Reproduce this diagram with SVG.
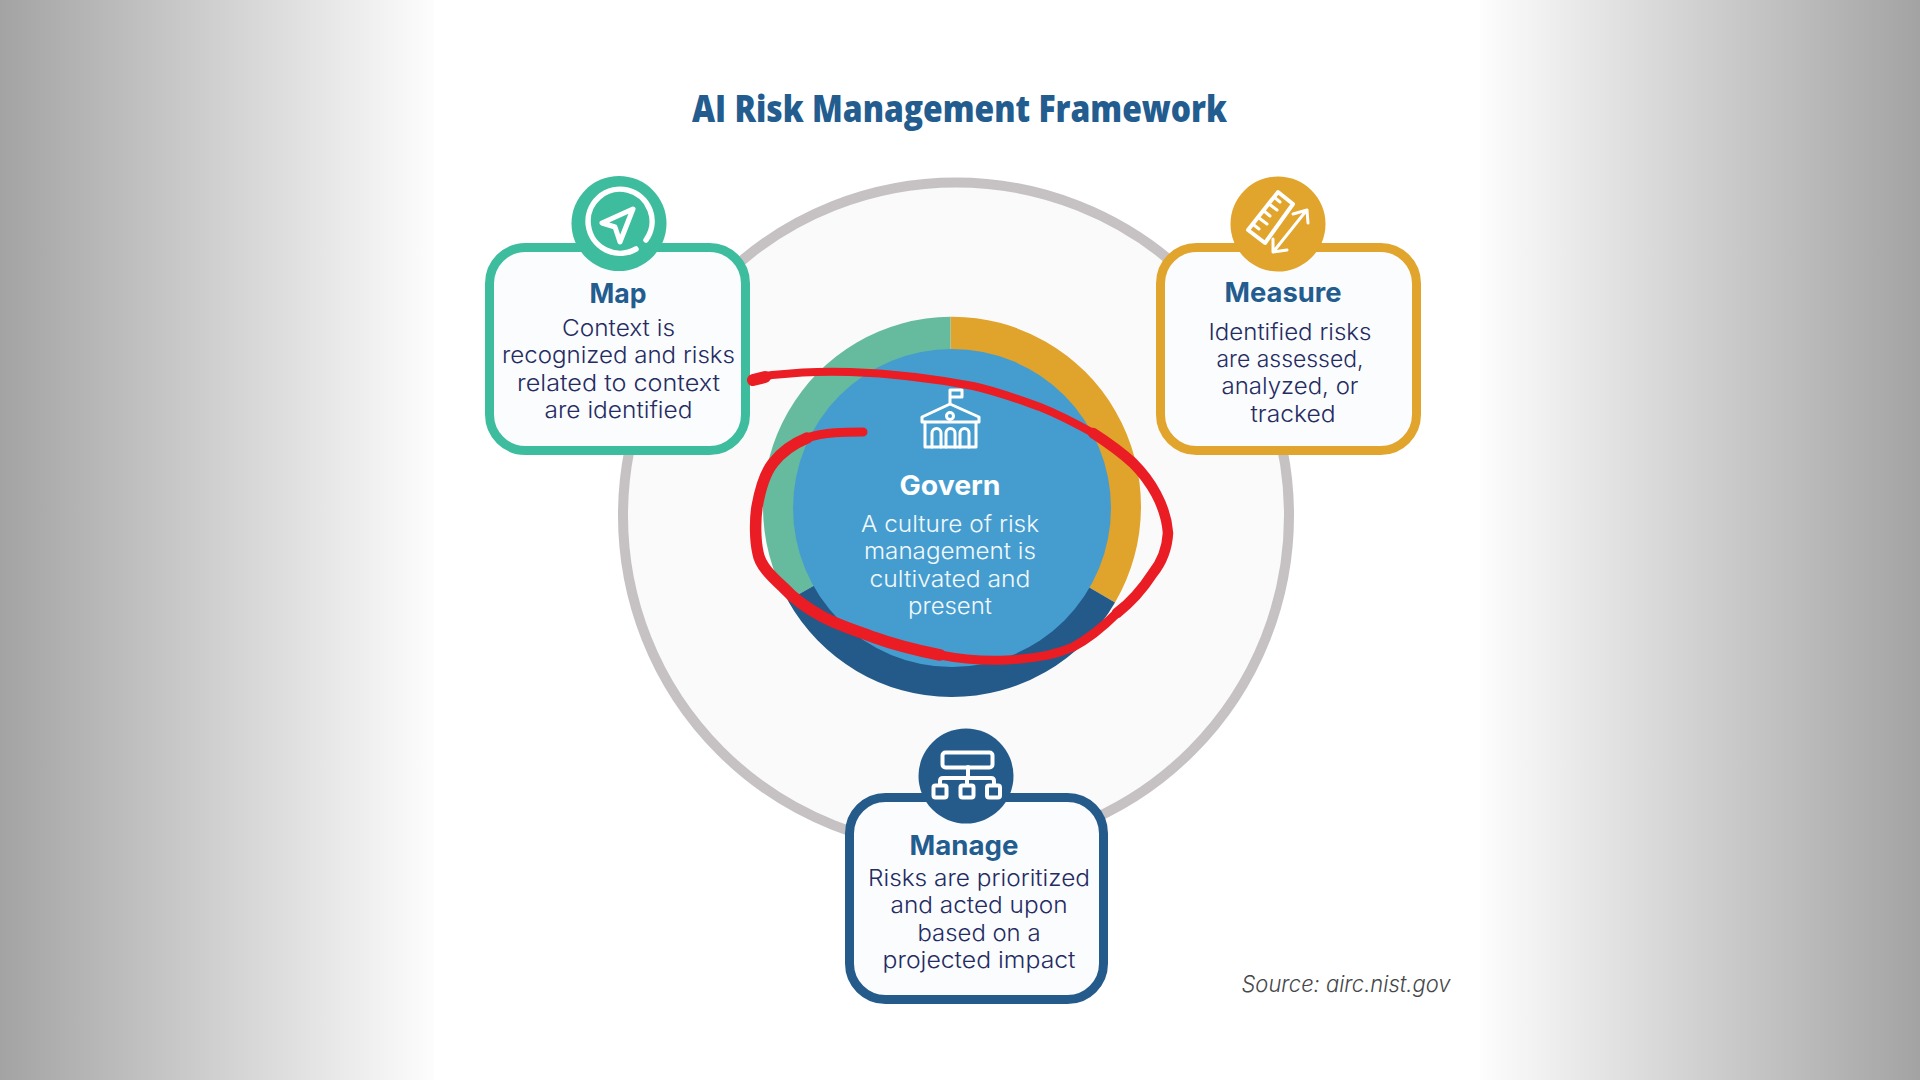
<svg xmlns="http://www.w3.org/2000/svg" width="1920" height="1080" viewBox="0 0 1920 1080">
<style>
text{text-anchor:middle;font-family:Inter,"Liberation Sans",sans-serif}
.h{font-size:27px;font-weight:700;fill:#235c8e}
.b{font-size:23px;font-weight:300;fill:#252c62}
.g{font-size:23px;font-weight:300;fill:#f2f8fc}
.ic{fill:none;stroke:#fff;stroke-linecap:round;stroke-linejoin:round}
.card{stroke-width:9;fill:#fbfcfe}
</style>
<defs>
<linearGradient id="gl" x1="0" x2="1" y1="0" y2="0"><stop offset="0" stop-color="#a3a3a3"/><stop offset="1" stop-color="#fdfdfd"/></linearGradient>
<linearGradient id="gr" x1="0" x2="1" y1="0" y2="0"><stop offset="0" stop-color="#fdfdfd"/><stop offset="1" stop-color="#a3a3a3"/></linearGradient>
</defs>
<rect width="1920" height="1080" fill="#fff"/>
<rect width="434" height="1080" fill="url(#gl)"/>
<rect x="1480" width="440" height="1080" fill="url(#gr)"/>
<text x="959.500" y="122" font-size="37" font-weight="800" fill="#235c8e" style="font-family:'Open Sans','Liberation Sans',sans-serif" textLength="535" lengthAdjust="spacingAndGlyphs">AI Risk Management Framework</text>
<circle id="outer-ring" cx="956" cy="515.500" r="333" fill="#fafafa" stroke="#c6c2c3" stroke-width="10"/>
<g id="govern">
<path fill="#e0a32b" d="M950.500 507L950.500 316.800A188.500 189.700 0 0 1 1115 602.600L952 507Z"/>
<path fill="#66bb9f" d="M952 507L787.800 600.600A188.500 189.700 0 0 1 950.500 316.800L950.500 507Z"/>
<path fill="#235a89" d="M952 507L1115 602.600A188.500 189.700 0 0 1 787.800 600.600Z"/>
<circle cx="952" cy="508" r="159" fill="#459dcf"/>
<g class="ic" style="stroke-width:3">
<path d="M950 403V390H962V397H950"/>
<path d="M922 417L950 404L979 417V422H922Z"/>
<circle cx="950" cy="416" r="3.500"/>
<path d="M925 422V447H976V422"/>
<path d="M932 447V433a4.500 4.500 0 0 1 9 0V447M946 447V433a4.500 4.500 0 0 1 9 0V447M960 447V433a4.500 4.500 0 0 1 9 0V447"/>
</g>
<text x="950" y="495" class="h" textLength="101" lengthAdjust="spacingAndGlyphs" style="fill:#fff">Govern</text>
<text x="950" y="532" class="g" textLength="178" lengthAdjust="spacingAndGlyphs">A culture of risk</text>
<text x="950" y="559" class="g" textLength="172" lengthAdjust="spacingAndGlyphs">management is</text>
<text x="950" y="587" class="g" textLength="161" lengthAdjust="spacingAndGlyphs">cultivated and</text>
<text x="950" y="614" class="g" textLength="84" lengthAdjust="spacingAndGlyphs">present</text>
</g>
<g id="map">
<rect class="card" x="489.500" y="247.500" width="256" height="203" rx="36" stroke="#3dbd9d"/>
<circle cx="619" cy="223.500" r="47.500" fill="#3dbd9d"/>
<path class="ic" style="stroke-width:5.500" d="M636 249A32 32 0 1 1 646 240"/>
<path class="ic" style="stroke-width:5" d="M633 209L602 223L615 227L620 242Z"/>
<text x="618" y="303" class="h" textLength="57" lengthAdjust="spacingAndGlyphs">Map</text>
<text x="618.500" y="336" class="b" textLength="113" lengthAdjust="spacingAndGlyphs">Context is</text>
<text x="618.500" y="363" class="b" textLength="233" lengthAdjust="spacingAndGlyphs">recognized and risks</text>
<text x="618.500" y="391" class="b" textLength="203" lengthAdjust="spacingAndGlyphs">related to context</text>
<text x="618.500" y="418" class="b" textLength="148" lengthAdjust="spacingAndGlyphs">are identified</text>
</g>
<g id="measure">
<rect class="card" x="1160.500" y="247.500" width="256" height="203" rx="36" stroke="#e1a42c"/>
<circle cx="1278" cy="224" r="47.500" fill="#e1a42c"/>
<path class="ic" style="stroke-width:4" d="M1278 192L1293 204L1265 243L1248 230Z"/>
<path class="ic" style="stroke-width:3" d="M1274 197L1280 202M1269 204L1277 210M1264 211L1270 216M1259 218L1267 224M1254 225L1259 229"/>
<path class="ic" style="stroke-width:3" d="M1306 211L1274 251M1293 214L1307 210L1308 223M1273 239L1273 252L1287 250"/>
<text x="1283" y="302" class="h" textLength="117" lengthAdjust="spacingAndGlyphs">Measure</text>
<text x="1290" y="340" class="b" textLength="163" lengthAdjust="spacingAndGlyphs">Identified risks</text>
<text x="1290" y="367" class="b" textLength="147" lengthAdjust="spacingAndGlyphs">are assessed,</text>
<text x="1290" y="394" class="b" textLength="137" lengthAdjust="spacingAndGlyphs">analyzed, or</text>
<text x="1293" y="422" class="b" textLength="85" lengthAdjust="spacingAndGlyphs">tracked</text>
</g>
<g id="manage">
<rect class="card" x="849.500" y="797.500" width="254" height="202" rx="36" stroke="#245b8b"/>
<circle cx="966" cy="776" r="47.500" fill="#245b8b"/>
<g class="ic" style="stroke-width:4">
<rect x="942.500" y="752.500" width="50" height="15" rx="3"/>
<path d="M968 767V778M940 785V781Q940 778 943 778H991Q994 778 994 781V785M967 778V785"/>
<rect x="933.500" y="785.500" width="13" height="12" rx="2"/>
<rect x="960.500" y="785.500" width="13" height="12" rx="2"/>
<rect x="987" y="785.500" width="13" height="12" rx="2"/>
</g>
<text x="964" y="855" class="h" textLength="109" lengthAdjust="spacingAndGlyphs">Manage</text>
<text x="979" y="886" class="b" textLength="222" lengthAdjust="spacingAndGlyphs">Risks are prioritized</text>
<text x="979" y="913" class="b" textLength="177" lengthAdjust="spacingAndGlyphs">and acted upon</text>
<text x="979" y="941" class="b" textLength="123" lengthAdjust="spacingAndGlyphs">based on a</text>
<text x="979" y="968" class="b" textLength="193" lengthAdjust="spacingAndGlyphs">projected impact</text>
</g>
<text x="1346" y="992" font-size="22.500" font-style="italic" font-weight="300" fill="#45474a" textLength="209" lengthAdjust="spacingAndGlyphs">Source: airc.nist.gov</text>
<g id="connectors" fill="none" stroke="#ea1c24" stroke-linecap="round" stroke-linejoin="round">
<path stroke-width="8" d="M753 380C760 380 762 376 772 375C800 372 825 371 850 372C880 373 925 377 973 386C1000 392 1020 400 1040 407C1060 415 1075 423 1093 433"/>
<path stroke-width="10.500" d="M1093 433C1110 444 1122 453 1133 463C1150 480 1166 505 1168 533C1167 550 1161 563 1153 573C1142 590 1130 603 1117 613"/>
<path stroke-width="9" d="M1117 613C1102 628 1090 638 1073 647C1055 655 1030 659 1007 660C985 661 960 659 940 655"/>
<path stroke-width="11.500" d="M940 655C915 650 895 645 873 637C855 630 840 626 823 617C810 610 795 600 783 587C770 575 760 565 758 553C755 540 755 520 757 507C760 490 765 473 773 463C783 450 795 443 807 438"/>
<path stroke-width="9" d="M807 438C825 432 845 432 863 432"/>
<path stroke-width="12" d="M753 380L765 377"/>
</g>
</svg>
